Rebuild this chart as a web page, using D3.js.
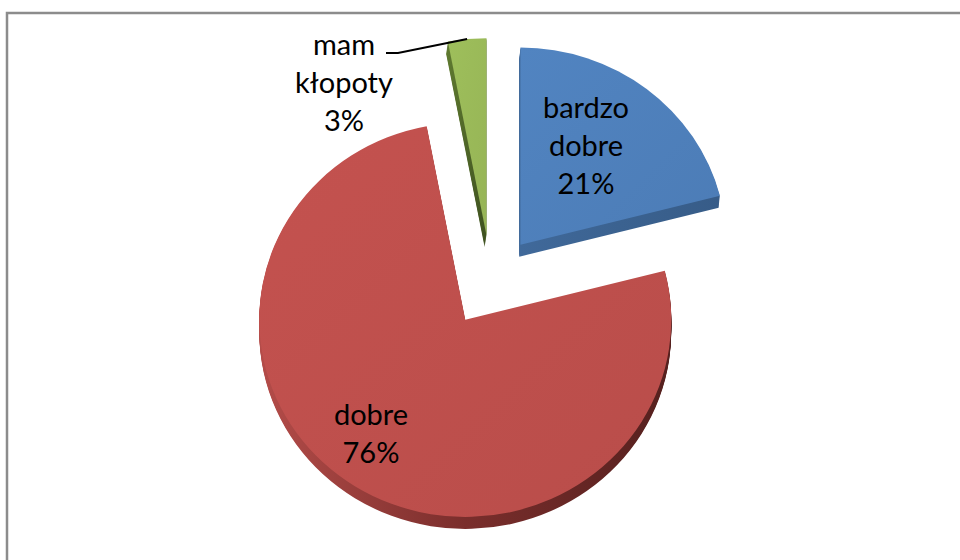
<!DOCTYPE html>
<html>
<head>
<meta charset="utf-8">
<script src="https://cdn.jsdelivr.net/npm/d3@7"></script>
<style>
  body { margin: 0; background: #fff; }
  text { font-family: Lato, "Open Sans", sans-serif; }
</style>
</head>
<body>
<div id="pie"></div>
<script>
// data
const categories = ["bardzo dobre", "dobre", "mam kłopoty"];
const values = [21, 76, 3];
const labelLines = [["bardzo", "dobre", "21%"], ["dobre", "76%"], ["mam", "kłopoty", "3%"]];
const topColors = ["#4f81bd", "#c0504d", "#9bbb59"];
// side wall shading, left to right
const sideColors = [
  ["#40699a", "#3b6290", "#375c88"],
  ["#b44c49", "#7a2e2c", "#55201e"],
  ["#5f7a30", "#4f6628", "#3f5220"]
];

// layout
const width = 960, height = 560;
const cx = 491, cy = 281, r = 206, k = 0.957;
const explode = 48, depth = 12;
const sideShift = [0.1, 0, 0.15];
const labelPos = [[586, 118], [371, 425], [344, 55]];
const lineGap = 38;

const svg = d3.select("#pie")
  .append("svg")
  .attr("width", width)
  .attr("height", height);

// chart frame
svg.append("rect")
  .attr("x", 7)
  .attr("y", 13)
  .attr("width", 1000)
  .attr("height", 1000)
  .attr("fill", "#fff")
  .attr("stroke", "#8c8c8c")
  .attr("stroke-width", 2.5);

const pie = d3.pie().sort(null).value(d => d);
const arcs = pie(values);
const arc = d3.arc().innerRadius(0).outerRadius(r);

function sliceCenter(d) {
  const a = (d.startAngle + d.endAngle) / 2;
  return [cx + explode * Math.sin(a), cy - explode * Math.cos(a) * k];
}

// gradients for top faces and side walls
const defs = svg.append("defs");
topColors.forEach((c, i) => {
  const g = defs.append("linearGradient")
    .attr("id", "top" + i)
    .attr("x1", "0%").attr("y1", "0%")
    .attr("x2", "100%").attr("y2", "100%");
  g.append("stop").attr("offset", "0%").attr("stop-color", d3.color(c).brighter(0.06));
  g.append("stop").attr("offset", "100%").attr("stop-color", d3.color(c).darker(0.1));

  const s = defs.append("linearGradient")
    .attr("id", "side" + i)
    .attr("x1", "0%").attr("y1", "0%")
    .attr("x2", "100%").attr("y2", "0%");
  sideColors[i].forEach((sc, j, all) => {
    s.append("stop")
      .attr("offset", (j / (all.length - 1) * 100) + "%")
      .attr("stop-color", sc);
  });
});

// side walls: stacked copies of the slice shape
const sides = svg.append("g");
arcs.forEach((d, i) => {
  const [x, y] = sliceCenter(d);
  for (let t = depth; t >= 1; t--) {
    sides.append("path")
      .attr("d", arc(d))
      .attr("fill", `url(#side${i})`)
      .attr("transform", `translate(${x - sideShift[i] * t},${y + t}) scale(1,${k})`);
  }
});

// top faces
svg.append("g")
  .selectAll("path")
  .data(arcs)
  .enter()
  .append("path")
  .attr("d", arc)
  .attr("fill", (d, i) => `url(#top${i})`)
  .attr("transform", d => {
    const [x, y] = sliceCenter(d);
    return `translate(${x},${y}) scale(1,${k})`;
  });

// labels
labelLines.forEach((lines, i) => {
  const t = svg.append("text")
    .attr("text-anchor", "middle")
    .attr("font-size", 29)
    .attr("fill", "#000");
  lines.forEach((s, j) => {
    t.append("tspan")
      .attr("x", labelPos[i][0])
      .attr("y", labelPos[i][1] + j * lineGap)
      .text(s);
  });
});

// leader line for the small slice
const small = arcs[2];
const [gx, gy] = sliceCenter(small);
const ma = (small.startAngle + small.endAngle) / 2;
const end = [gx + r * Math.sin(ma), gy - r * Math.cos(ma) * k];
svg.append("path")
  .attr("d", d3.line()([[386, 53], [398, 53], end]))
  .attr("fill", "none")
  .attr("stroke", "#000")
  .attr("stroke-width", 2);
</script>
</body>
</html>
